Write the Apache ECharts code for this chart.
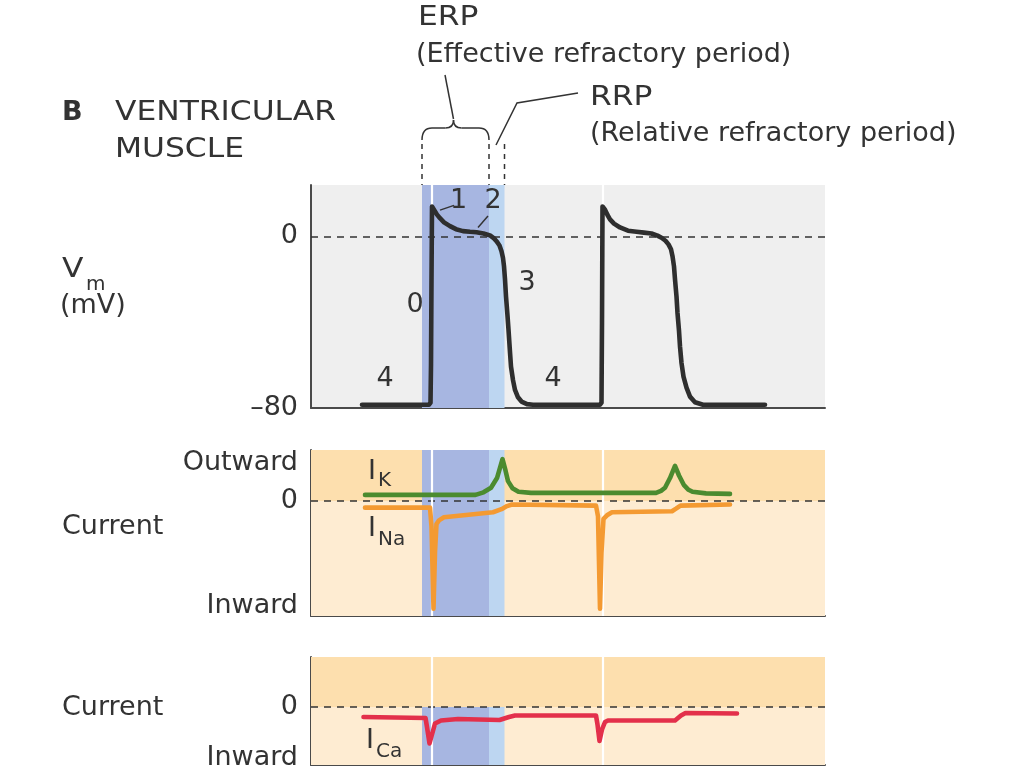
<!DOCTYPE html>
<html><head><meta charset="utf-8">
<script src="https://cdn.jsdelivr.net/npm/echarts@6/dist/echarts.min.js"></script>
<style>html,body{margin:0;padding:0;background:#fff}#c{width:1024px;height:767px}</style>
</head><body><div id="c"></div>
<script>
// ---------- data (time in ms, arbitrary origin) ----------
const vmTrace = [[102,-78.5],[236,-78.5],[239,-77.5],[240,-60],[241,-20],[242,14],[246,12.5],[252,10.2],[258,8.5],[266,6.6],[278,4.8],[290,3.4],[304,2.5],[318,2.2],[331,2.0],[345,1.4],[358,0.5],[366,-0.9],[371,-2.2],[377,-4.2],[381,-6.9],[384,-10],[386,-13.9],[388,-20],[390,-27.9],[393,-37],[395,-43.5],[398,-54],[400,-60.7],[404,-67],[408,-71.6],[414,-75],[421,-77],[432,-78.2],[444,-78.5],[578,-78.5],[581,-77.5],[582,-40],[583,14],[588,12.5],[593,10],[598,8],[606,6],[618,4.2],[634,2.7],[651,2.2],[666,1.8],[681,1.4],[693,0.4],[701,-0.6],[709,-2],[715,-3.7],[720,-6],[723,-9.2],[726,-14],[728,-20],[731,-28],[733,-35.7],[736,-44],[738,-51.3],[741,-59],[745,-65.4],[751,-70.5],[758,-74.7],[768,-77.3],[784,-78.5],[908,-78.5]];
const ikTrace = [[108,0.12],[329,0.12],[345,0.17],[360,0.26],[372,0.45],[383,0.82],[389,0.6],[394,0.39],[403,0.25],[415,0.18],[440,0.16],[690,0.16],[700,0.2],[708,0.26],[718,0.45],[728,0.69],[736,0.5],[746,0.31],[755,0.22],[763,0.18],[790,0.15],[838,0.14]];
const inaTrace = [[108,-0.13],[238,-0.13],[241,-0.5],[245,-2.11],[248,-1.0],[251,-0.45],[256,-0.38],[266,-0.32],[364,-0.22],[381,-0.16],[392,-0.1],[402,-0.07],[570,-0.09],[574,-0.3],[578,-2.11],[581,-1.0],[585,-0.35],[592,-0.28],[602,-0.22],[722,-0.2],[730,-0.15],[739,-0.09],[838,-0.07]];
const icaTrace = [[105,-0.2],[229,-0.22],[232,-0.4],[237,-0.73],[242,-0.55],[248,-0.33],[260,-0.27],[294,-0.24],[377,-0.26],[396,-0.2],[408,-0.17],[570,-0.17],[573,-0.35],[577,-0.68],[582,-0.45],[588,-0.3],[594,-0.27],[728,-0.27],[740,-0.17],[749,-0.12],[852,-0.13]];
const erpWindow = [222, 356];
const rrpWindow = [356, 387];
const upstrokeTimes = [242, 583];
const vmTickValues = [0, -80];
const vmTickLabels = ['0', '–80'];
const curTickValues = [0.745, 0, -2.06];
const curTickLabels = ['Outward', '0', 'Inward'];
const caTickValues = [0, -1.02];
const caTickLabels = ['0', 'Inward'];
const phaseLabels = ['0', '1', '2', '3', '4', '4'];

// ---------- styling / layout ----------
const FONT = 'DejaVu Sans';
const FS = 27;
const TXT = '#333333';
const AXIS = { show: true, onZero: false, lineStyle: { color: '#4a4a4a', width: 2 } };
const C_BG1 = '#efefef', C_UP = '#fddfae', C_LO = '#feecd2', C_ERP = '#a7b6e1', C_RRP = '#bdd6f1';
const phaseAnchors = [[208,-31.8],[295,16.6],[364,16.6],[432,-21.5],[148,-66.7],[484,-66.7]];
const phaseLeaders = [[[258,12.3],[286,14.5]],[[334,4.2],[354,9.5]]];

function labelFmt(vals, labs) {
  return function (v) {
    let best = 0, bd = Infinity;
    vals.forEach((x, i) => { const d = Math.abs(x - v); if (d < bd) { bd = d; best = i; } });
    return labs[best];
  };
}
function yAxisDef(gi, min, max, vals, labs) {
  return {
    type: 'value', gridIndex: gi, min: min, max: max,
    axisLine: AXIS, axisTick: { show: false }, splitLine: { show: false },
    axisLabel: { customValues: vals, formatter: labelFmt(vals, labs), fontFamily: FONT, fontSize: FS, color: TXT, margin: 13, hideOverlap: false }
  };
}
function xAxisDef(gi) {
  return { type: 'value', gridIndex: gi, min: 0, max: 1028, axisLine: AXIS, axisTick: { show: false }, axisLabel: { show: false }, splitLine: { show: false } };
}
function bandSeries(gi, yLo, yHi, z) {
  const a = (x0, x1, c) => [{ xAxis: x0, yAxis: yLo, itemStyle: { color: c } }, { xAxis: x1, yAxis: yHi }];
  return { type: 'line', xAxisIndex: gi, yAxisIndex: gi, data: [], silent: true, z: z,
    markArea: { silent: true, label: { show: false }, data: [a(erpWindow[0], erpWindow[1], C_ERP), a(rrpWindow[0], rrpWindow[1], C_RRP)] } };
}
function bgSeries(gi, min, max) {
  return { type: 'line', xAxisIndex: gi, yAxisIndex: gi, data: [], silent: true, z: 1,
    markArea: { silent: true, label: { show: false }, data: [
      [{ xAxis: 0, yAxis: 0, itemStyle: { color: C_UP } }, { xAxis: 1028, yAxis: max }],
      [{ xAxis: 0, yAxis: min, itemStyle: { color: C_LO } }, { xAxis: 1028, yAxis: 0 }]
    ] } };
}
function guideSeries(gi, whiteSegs) {
  const white = whiteSegs.map(s => [{ coord: s[0], lineStyle: { color: '#ffffff', width: 2.2, type: 'solid' } }, { coord: s[1] }]);
  return { type: 'line', xAxisIndex: gi, yAxisIndex: gi, data: [], silent: true, z: 3,
    markLine: { silent: true, symbol: 'none', label: { show: false }, animation: false,
      lineStyle: { color: '#333', width: 1.6, type: [7, 6] },
      data: [[{ coord: [0, 0] }, { coord: [1028, 0] }]].concat(white) } };
}
function curve(gi, data, color) {
  return { type: 'line', xAxisIndex: gi, yAxisIndex: gi, data: data, symbol: 'none', silent: true, z: 5,
    lineStyle: { color: color, width: 4.6, cap: 'round', join: 'round' } };
}

const chart = echarts.init(document.getElementById('c'));
const GB = { outerBoundsMode: 'none', containLabel: false };
const option = {
  animation: false,
  backgroundColor: '#ffffff',
  grid: [
    Object.assign({ left: 311, top: 185, width: 514, height: 223, show: true, backgroundColor: C_BG1, borderWidth: 0 }, GB),
    Object.assign({ left: 311, top: 450, width: 514, height: 166 }, GB),
    Object.assign({ left: 311, top: 657, width: 514, height: 108 }, GB)
  ],
  xAxis: [xAxisDef(0), xAxisDef(1), xAxisDef(2)],
  yAxis: [
    yAxisDef(0, -80, 24, vmTickValues, vmTickLabels),
    yAxisDef(1, -2.255, 1, curTickValues, curTickLabels),
    yAxisDef(2, -1.16, 1, caTickValues, caTickLabels)
  ],
  series: [
    bandSeries(0, -80, 24, 2),
    guideSeries(0, upstrokeTimes.map(t => [[t, 24], [t, 14]])),
    curve(0, vmTrace, '#2e2e2e'),
    bgSeries(1, -2.255, 1),
    bandSeries(1, -2.255, 1, 2),
    guideSeries(1, upstrokeTimes.map(t => [[t, 1], [t, -2.255]])),
    curve(1, ikTrace, '#4b8b2f'),
    curve(1, inaTrace, '#f49a32'),
    bgSeries(2, -1.16, 1),
    bandSeries(2, -1.16, 0, 2),
    guideSeries(2, upstrokeTimes.map(t => [[t, 1], [t, -1.16]])),
    curve(2, icaTrace, '#e3304b')
  ]
};
chart.setOption(option);

// ---------- annotations ----------
const px = (gi, p) => chart.convertToPixel({ gridIndex: gi }, p);
function txt(text, x, y, size, opts) {
  opts = opts || {};
  return { type: 'text', x: x, y: y, scaleX: opts.sx || 1, silent: true, z: 10,
    style: { text: text, font: (opts.bold ? 'bold ' : '') + size + 'px ' + FONT, fill: TXT, textAlign: opts.align || 'left', textVerticalAlign: 'middle' } };
}
const UP = 1.16;
const g = [];
// titles
g.push(txt('B', 62, 113, FS, { bold: true }));
g.push(txt('VENTRICULAR', 115, 113, FS, { sx: UP }));
g.push(txt('MUSCLE', 115, 150, FS, { sx: UP }));
g.push(txt('ERP', 418, 18, FS, { sx: UP }));
g.push(txt('(Effective refractory period)', 416, 55, FS));
g.push(txt('RRP', 590, 98, FS, { sx: UP }));
g.push(txt('(Relative refractory period)', 590, 134, FS));
// axis titles
g.push(txt('V', 62, 270, FS, { sx: UP }));
g.push(txt('m', 86, 285, 20));
g.push(txt('(mV)', 60, 306, FS));
g.push(txt('Current', 62, 527, FS));
g.push(txt('Current', 62, 708, FS));
// current names
g.push(txt('I', 368, 472, FS)); g.push(txt('K', 378, 481, 20));
g.push(txt('I', 368, 529, FS)); g.push(txt('Na', 378, 540, 20));
g.push(txt('I', 366, 741, FS)); g.push(txt('Ca', 376, 752, 20));
// phase numbers
phaseLabels.forEach((l, i) => { const p = px(0, phaseAnchors[i]); g.push(txt(l, p[0], p[1], FS, { align: 'center' })); });
const LS = { stroke: '#333', lineWidth: 1.5 };
const line = (x1, y1, x2, y2, dash) => ({ type: 'line', silent: true, z: 10, shape: { x1, y1, x2, y2 }, style: Object.assign({}, LS, dash ? { lineDash: dash } : {}) });
const quad = (x1, y1, cx, cy, x2, y2) => ({ type: 'bezierCurve', silent: true, z: 10, shape: { x1, y1, x2, y2, cpx1: cx, cpy1: cy }, style: Object.assign({ fill: null }, LS) });
phaseLeaders.forEach(seg => { const a = px(0, seg[0]), b = px(0, seg[1]); g.push(line(a[0], a[1], b[0], b[1])); });
// brace + dashed guides
const L = px(0, [erpWindow[0], 0])[0], R = px(0, [erpWindow[1], 0])[0], RR = px(0, [rrpWindow[1], 0])[0];
const xm = (L + R) / 2 - 2;
g.push(quad(L, 140, L, 128, L + 10, 128));
g.push(line(L + 10, 128, xm - 8, 128));
g.push(quad(xm - 8, 128, xm, 128, xm, 120));
g.push(quad(xm, 120, xm, 128, xm + 8, 128));
g.push(line(xm + 8, 128, R - 10, 128));
g.push(quad(R - 10, 128, R, 128, R, 140));
[L, R, RR].forEach(x => g.push(line(x, 144, x, 185, [5, 5])));
g.push(line(xm, 119, 445, 75));
g.push({ type: 'polyline', silent: true, z: 10, shape: { points: [[R + 7, 145], [517, 103], [578, 93]] }, style: Object.assign({ fill: null }, LS) });
chart.setOption({ graphic: g });
</script>
</body></html>
